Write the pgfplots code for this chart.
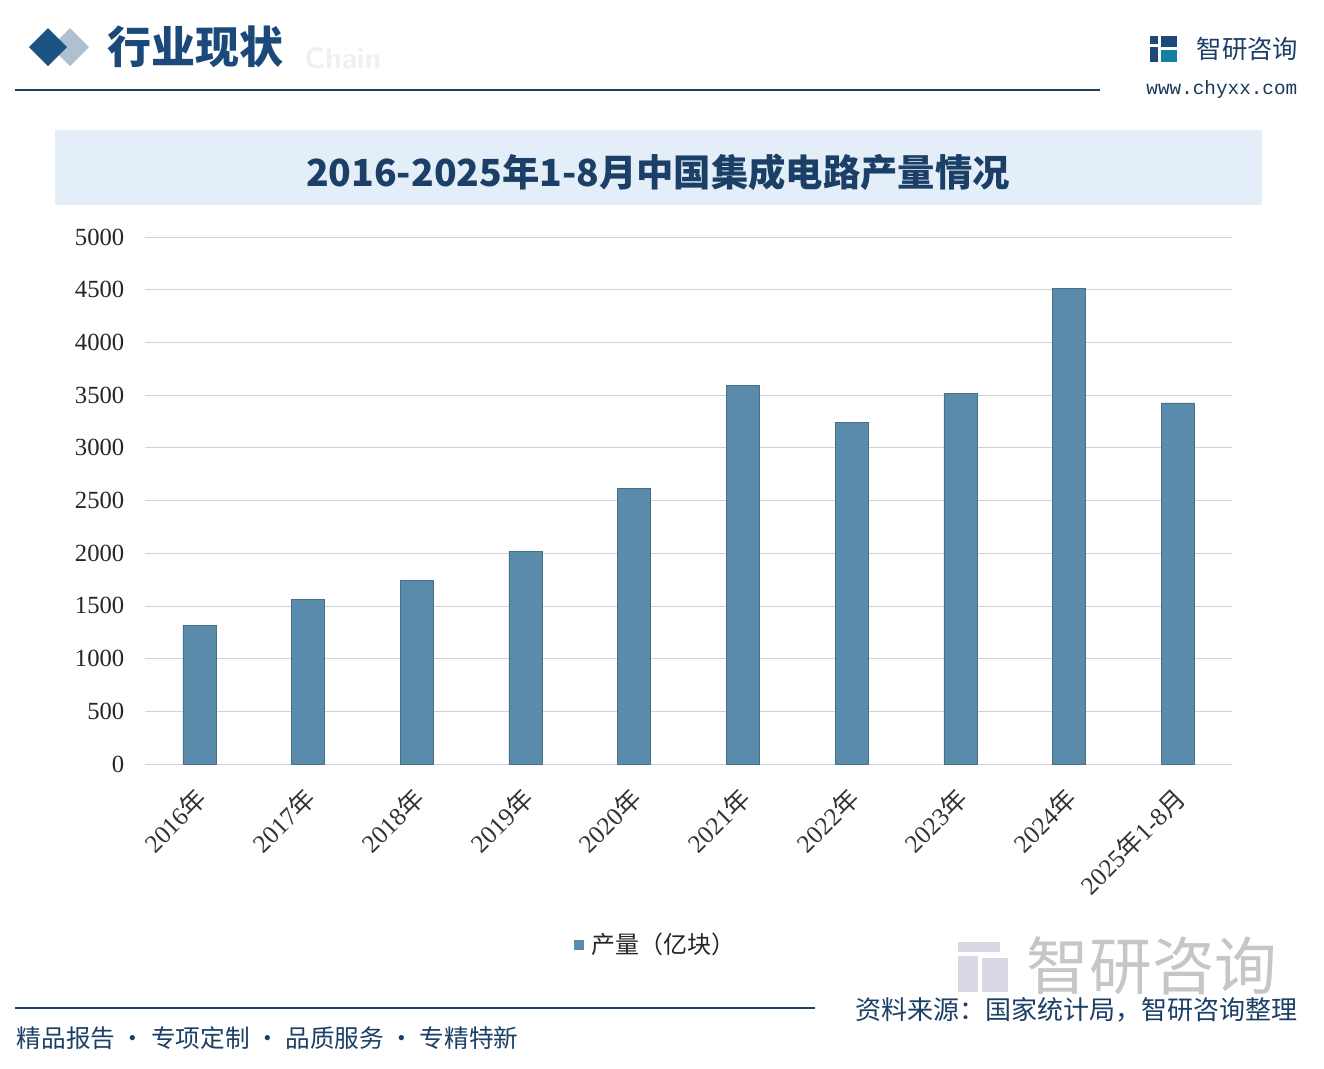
\documentclass[border=0pt]{standalone}
\usepackage{fontspec}
\usepackage{pgfplots}
\pgfplotsset{compat=1.18}
\setmainfont{Liberation Serif}
\newfontfamily\cjk{Noto Sans CJK SC}
\newfontfamily\mono{Liberation Mono}
\definecolor{barc}{HTML}{5A8BAA}
\definecolor{dblue}{HTML}{1B4A7A}
\definecolor{tblue}{HTML}{1B3F66}
\definecolor{boxc}{HTML}{E4EEF8}
\definecolor{linec}{HTML}{1E3F5E}
\newcommand{\fs}[1]{\fontsize{#1}{#1}\selectfont}
\begin{document}
\begin{tikzpicture}[x=0.75pt,y=-0.75pt]
\useasboundingbox (0,0) rectangle (1324,1068);
\fill[white] (0,0) rectangle (1324,1068);
% header
\fill[dblue!35] (70,28) -- (89,47) -- (70,66) -- (51,47) -- cycle;
\fill[dblue!95!cyan] (48,28) -- (67,47) -- (48,66) -- (29,47) -- cycle;
\node[anchor=west,text=gray!12,font=\sffamily\bfseries\fs{22}] at (300,58) {Chain};
\node[anchor=west,text=dblue,font=\cjk\bfseries\fs{33}] at (103,47) {行业现状};
\draw[linec,line width=1.5pt] (15,90) -- (1100,90);
% logo
\fill[dblue] (1150,36) rectangle (1158,44);
\fill[dblue] (1150,47) rectangle (1158,62);
\fill[dblue!70!cyan] (1161,50) rectangle (1177,62);
\fill[dblue] (1161,36) rectangle (1177,47);
\node[anchor=west,text=tblue,font=\cjk\fs{19}] at (1192,49) {智研咨询};
\node[anchor=east,text=tblue!90!black,font=\mono\fs{14.5}] at (1302,89) {www.chyxx.com};
% title box
\fill[boxc] (55,130) rectangle (1262,205);
\node[text=tblue,font=\cjk\bfseries\fs{28}] at (658,172) {2016-2025年1-8月中国集成电路产量情况};
% watermark logo
\node[anchor=west,text=gray!45,font=\cjk\fs{47}] at (1022,966) {智研咨询};
\fill[blue!20!gray!25] (958,942) rectangle (1000,952);
\fill[blue!20!gray!25] (958,956) rectangle (978,992);
\fill[blue!20!gray!25] (982,958) rectangle (1008,992);
% legend
\fill[barc] (574,940) rectangle (584,950);
\node[anchor=west,text=black!85,font=\cjk\fs{18}] at (587,944) {产量（亿块）};
% footer
\draw[linec,line width=1.5pt] (15,1008) -- (815,1008);
\node[anchor=west,text=tblue,font=\cjk\fs{18.5}] at (12,1038) {精品报告 · 专项定制 · 品质服务 · 专精特新};
\node[anchor=east,text=tblue,font=\cjk\fs{19.5}] at (1302,1010) {资料来源：国家统计局，智研咨询整理};
\begin{axis}[
  at={(108.75pt,-573pt)}, anchor=south west,
  width=815.25pt, height=395.25pt, scale only axis,
  xmin=-0.5, xmax=9.5, ymin=0, ymax=5000,
  ytick={0,500,...,5000},
  ymajorgrids, grid style={draw=gray!35, line width=0.6pt},
  axis line style={draw=none},
  major tick length=0pt,
  xtick=data,
  xticklabels={2016{\cjk 年},2017{\cjk 年},2018{\cjk 年},2019{\cjk 年},2020{\cjk 年},2021{\cjk 年},2022{\cjk 年},2023{\cjk 年},2024{\cjk 年},2025{\cjk 年}1-8{\cjk 月}},
  xticklabel style={rotate=45, anchor=north east, font=\fs{19}, text=black!80, xshift=-11pt, yshift=-5pt},
  yticklabel style={anchor=east, font=\fs{18.5}, text=black!85, xshift=-12pt},
  /pgf/number format/1000 sep={},
  /pgf/number format/assume math mode=true,
  ybar, bar width=24.75pt,
]
\addplot[fill=barc, draw=barc!80!black, line width=0.3pt] coordinates {
(0,1318) (1,1565) (2,1740) (3,2018) (4,2614) (5,3594) (6,3242) (7,3514) (8,4514) (9,3427)};
\end{axis}
\end{tikzpicture}
\end{document}
